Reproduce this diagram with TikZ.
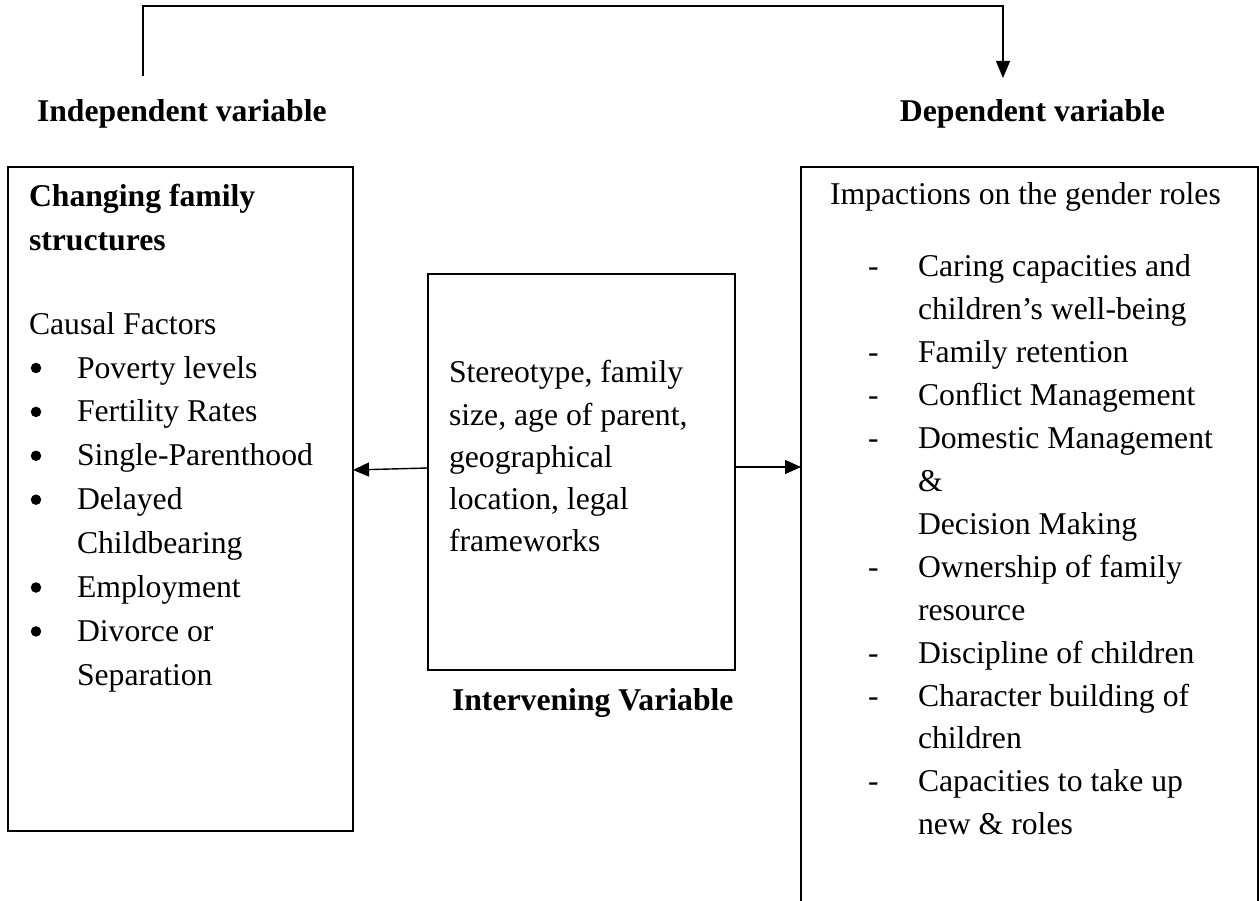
\documentclass[tikz,border=0pt]{standalone}
\usepackage{fontspec}
\setmainfont{Liberation Serif}
\usetikzlibrary{arrows.meta}
\begin{document}
\begin{tikzpicture}[x=1pt,y=-1pt,
  box/.style={draw, line width=1.4pt, inner sep=0pt, outer sep=0pt},
  txt/.style={inner sep=0pt, outer sep=0pt, anchor=base west, font=\fontsize{31.7}{40}\selectfont},
  hd/.style={txt, font=\fontsize{31.7}{40}\selectfont\bfseries},
  dot/.style={circle, fill, inner sep=0pt, minimum size=10.5pt},
  conn/.style={line width=1.4pt},
  arr/.style={conn, -{Triangle[length=16pt,width=14pt]}}]
\useasboundingbox (0,0) rectangle (1259,901);

% boxes
\node[box, anchor=north west, minimum width=345pt, minimum height=664pt] (L) at (8,167) {};
\node[box, anchor=north west, minimum width=307pt, minimum height=396pt] (M) at (428,274) {};
\node[box, anchor=north west, minimum width=457pt, minimum height=760pt] (R) at (801,167) {};

% top connector
\coordinate (s) at (143,76);
\coordinate (c1) at (143,6);
\coordinate (t) at (1003,78);
\draw[conn, line width=1.3pt, -{Triangle[length=17pt,width=14pt]}] (s) -- (c1) -| (t);

% horizontal arrows
\draw[arr] (M.west |- 0,468) -- (L.east |- 0,470);
\draw[arr] (M.east |- 0,467) -- (R.west |- 0,467);

% headings
\node[hd] (ind) at (37,122) {Independent variable};
\node[hd, anchor=base east] (dep) at (1165,122) {Dependent variable};
\node[hd] (int) at (452,710) {Intervening Variable};

% left box text
\node[hd] (lh1) at (29,207) {Changing family};
\node[hd] (lh2) at (29,251) {structures};
\node[txt] (lc) at (29,335) {Causal Factors};
\foreach \t [count=\i from 0] in {Poverty levels, Fertility Rates, Single-Parenthood, Delayed, Childbearing, Employment, Divorce or, Separation}
  \node[txt] (li\i) at (77,{378+43.9*\i}) {\t};
\foreach \i in {0,1,2,3,5,6}
  \node[dot] (lb\i) at (36,{378-10+43.9*\i}) {};

% middle box text
\foreach \t [count=\i from 0] in {{Stereotype, family}, {size, age of parent,}, geographical, {location, legal}, frameworks}
  \node[txt] (mi\i) at (449,{383+42.2*\i}) {\t};

% right box text
\node[txt] (rh) at (830,205) {Impactions on the gender roles};
\foreach \t [count=\i from 0] in {Caring capacities and, children’s well-being, Family retention, Conflict Management, Domestic Management, \&, Decision Making, Ownership of family, resource, Discipline of children, Character building of, children, Capacities to take up, new \& roles}
  \node[txt] (ri\i) at (918,{277+42.9*\i}) {\t};
\foreach \i in {0,2,3,4,7,9,10,12}
  \node[txt] (rd\i) at (868,{277+42.9*\i}) {-};
\end{tikzpicture}
\end{document}
